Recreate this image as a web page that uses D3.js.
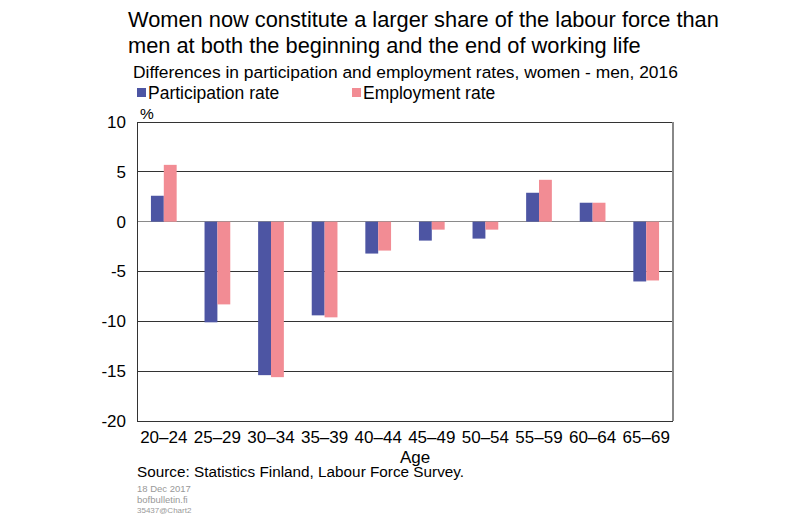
<!DOCTYPE html>
<html><head><meta charset="utf-8">
<script src="https://cdn.jsdelivr.net/npm/d3@7"></script>
<style>body{margin:0;background:#fff;font-family:"Liberation Sans",Arial,sans-serif;}</style>
</head><body><svg id="c" width="800" height="522"></svg>
<script>
const categories = ["20–24","25–29","30–34","35–39","40–44","45–49","50–54","55–59","60–64","65–69"];
const participation = [2.6,-10.1,-15.4,-9.4,-3.2,-1.9,-1.7,2.9,1.9,-6.0];
const employment = [5.7,-8.3,-15.6,-9.6,-2.9,-0.8,-0.8,4.2,1.9,-5.9];
const yTicks = [10,5,0,-5,-10,-15,-20];
const seriesNames = ["Participation rate","Employment rate"];
const colors = ["#4D55A3","#F28C94"];

const FF = "Liberation Sans, Arial, sans-serif";
const svg = d3.select("#c");
const L=137,R=673,T=122,B=421;
const x = d3.scaleBand().domain(categories).range([L,R]).paddingInner(0.52).paddingOuter(0.26);
const xs = d3.scaleBand().domain([0,1]).range([0,x.bandwidth()]);
const y = d3.scaleLinear().domain([-20,10]).range([B,T]);

// titles
const t = svg.append("text").attr("x",128).attr("font-size",21.8).attr("fill","#000");
t.append("tspan").attr("x",128).attr("y",27).text("Women now constitute a larger share of the labour force than");
t.append("tspan").attr("x",128).attr("y",53).text("men at both the beginning and the end of working life");
svg.append("text").attr("x",133).attr("y",78).attr("font-size",17.4).text("Differences in participation and employment rates, women - men, 2016");

// legend
const lg = [[137,0],[352,1]];
lg.forEach(([lx,i])=>{
  svg.append("rect").attr("x",lx).attr("y",88).attr("width",9).attr("height",9).attr("fill",colors[i]);
  svg.append("text").attr("x",lx+11).attr("y",98.5).attr("font-size",17.5).text(seriesNames[i]);
});
svg.append("text").attr("x",140).attr("y",119).attr("font-size",15.5).text("%");

// gridlines
svg.append("g").selectAll("line").data(yTicks.filter(d=>d>-20&&d<10)).join("line")
  .attr("x1",L).attr("x2",R).attr("y1",d=>y(d)).attr("y2",d=>y(d))
  .attr("stroke",d=>d===0?"#8a8a8a":"#333").attr("stroke-width",1).attr("shape-rendering","crispEdges");

// bars
const data = categories.map((c,i)=>({c, v:[participation[i],employment[i]]}));
const g = svg.append("g");
g.selectAll("g").data(data).join("g").attr("transform",d=>`translate(${x(d.c)},0)`)
  .selectAll("rect").data(d=>d.v.map((v,k)=>({v,k}))).join("rect")
  .attr("x",d=>xs(d.k)).attr("width",xs.bandwidth())
  .attr("y",d=>y(Math.max(0,d.v))).attr("height",d=>Math.abs(y(d.v)-y(0)))
  .attr("fill",d=>colors[d.k]);

// frame
svg.append("line").attr("x1",L).attr("x2",R).attr("y1",T).attr("y2",T).attr("stroke","#333").attr("shape-rendering","crispEdges");
svg.append("line").attr("x1",L).attr("x2",R).attr("y1",B).attr("y2",B).attr("stroke","#333").attr("shape-rendering","crispEdges");
svg.append("line").attr("x1",L).attr("x2",L).attr("y1",T).attr("y2",B).attr("stroke","#333").attr("shape-rendering","crispEdges");
svg.append("line").attr("x1",R).attr("x2",R).attr("y1",T).attr("y2",B).attr("stroke","#888").attr("stroke-width",1.5).attr("shape-rendering","crispEdges");

// y axis labels
const ya = svg.append("g").attr("transform",`translate(${L},0)`)
  .call(d3.axisLeft(y).tickValues(yTicks).tickSize(0).tickPadding(11).tickFormat(d=>String(d)));
ya.select(".domain").remove();
ya.selectAll("text").attr("font-size",17).attr("font-family",FF).attr("fill","#000");

// x axis labels
const xa = svg.append("g").attr("transform",`translate(0,${B})`)
  .call(d3.axisBottom(x).tickSize(0).tickPadding(10));
xa.select(".domain").remove();
xa.selectAll("text").attr("font-size",17).attr("font-family",FF).attr("fill","#000");

svg.append("text").attr("x",415).attr("y",463).attr("text-anchor","middle").attr("font-size",17).text("Age");
svg.append("text").attr("x",137).attr("y",477).attr("font-size",15.3).text("Source: Statistics Finland, Labour Force Survey.");
svg.append("text").attr("x",137).attr("y",492).attr("font-size",9.5).attr("fill","#999").text("18 Dec 2017");
svg.append("text").attr("x",137).attr("y",503).attr("font-size",9.5).attr("fill","#999").text("bofbulletin.fi");
svg.append("text").attr("x",137).attr("y",513).attr("font-size",8).attr("fill","#999").text("35437@Chart2");
</script></body></html>
